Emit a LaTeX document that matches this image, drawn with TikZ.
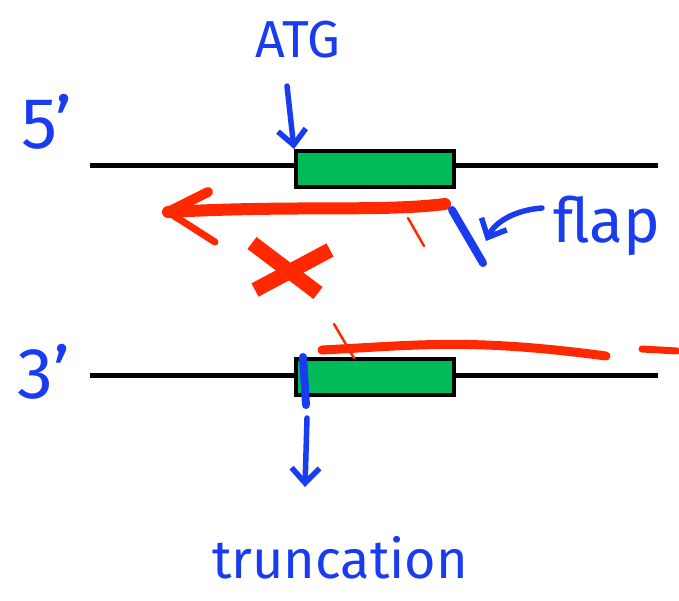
\documentclass[tikz,border=0pt]{standalone}
\usepackage{fontspec}
\setmainfont{Fira Sans}
\usetikzlibrary{arrows.meta}
\definecolor{penblue}{RGB}{25,60,240}
\definecolor{penred}{RGB}{255,40,0}
\definecolor{genegreen}{RGB}{0,187,90}
\tikzset{
  strand/.style={line width=5pt},
  gene/.style={draw=black, line width=4pt, fill=genegreen, minimum width=158pt, minimum height=36pt, inner sep=0pt},
  bluepen/.style={penblue, line width=5.5pt, line cap=round},
  redpen/.style={penred, line cap=round},
  pointer/.style={bluepen, -{Straight Barb[length=15pt,width=28pt,line width=5.5pt]}},
  label/.style={text=penblue, inner sep=0pt},
}
\begin{document}
\begin{tikzpicture}[x=1pt,y=-1pt]
\useasboundingbox (0,0) rectangle (679,600);
% top strand
\coordinate (t5) at (90,165);
\coordinate (t3) at (658,165);
\draw[strand] (t5) -- (t3);
\node[gene] (topgene) at (375,169) {};
% bottom strand
\coordinate (b5) at (90,375);
\coordinate (b3) at (658,375);
\draw[strand] (b5) -- (b3);
\node[gene] (botgene) at (375,377) {};
% labels
\node[label, font=\fontsize{52}{52}\selectfont] (atg) at (298,40) {ATG};
\node[label, font=\fontsize{72}{72}\selectfont] (five) at (47,122) {5'};
\node[label, font=\fontsize{72}{72}\selectfont] (three) at (44,372) {3'};
\node[label, font=\fontsize{62}{62}\selectfont] (flap) at (607,226) {flap};
\node[label, font=\fontsize{54}{54}\selectfont] (trunc) at (340,558) {truncation};
% ATG arrow
\coordinate (atgtail) at (287,86);
\draw[pointer] (atgtail) -- (topgene.north west);
% red arrow (new strand running left)
\coordinate (rstart) at (445,204);
\coordinate (rtip) at (168,212);
\coordinate (rbarb1) at (208,192);
\coordinate (rbarb2) at (215,242);
\draw[redpen, line width=12pt] (rstart) .. controls (380,212) and (300,205) .. (rtip);
\draw[redpen, line width=10pt] (rtip) -- (rbarb1);
\draw[redpen, line width=7pt] (rtip) -- (rbarb2);
\coordinate (streak1) at (408,218);
\coordinate (streak2) at (424,246);
\draw[redpen, line width=2.5pt] (streak1) -- (streak2);
% red cross
\coordinate (x1) at (255,290);
\coordinate (x2) at (330,250);
\coordinate (x3) at (252,243);
\coordinate (x4) at (318,293);
\draw[redpen, line width=15pt, line cap=butt] (x1) -- (x2);
\draw[redpen, line width=15pt, line cap=butt] (x3) -- (x4);
% flap stroke
\coordinate (flapa) at (452,210);
\coordinate (flapb) at (483,263);
\draw[penblue, line width=8pt, line cap=round] (flapa) -- (flapb);
% flap pointer
\coordinate (fptail) at (542,208);
\coordinate (fphead) at (486,241);
\draw[pointer] (fptail) .. controls (515,210) and (495,222) .. (fphead);
% bottom red strand
\coordinate (br1) at (322,350);
\coordinate (br2) at (606,356);
\draw[redpen, line width=9pt] (br1) .. controls (420,345) and (470,338) .. (br2);
\coordinate (bd1) at (642,349);
\coordinate (bd2) at (677,351);
\draw[redpen, line width=7pt] (bd1) -- (bd2);
\coordinate (bs1) at (334,324);
\coordinate (bs2) at (354,358);
\draw[redpen, line width=2.5pt] (bs1) -- (bs2);
% truncation mark
\coordinate (tm1) at (303,357);
\coordinate (tm2) at (306,405);
\draw[penblue, line width=8pt, line cap=round] (tm1) -- (tm2);
\coordinate (ttail) at (307,418);
\coordinate (thead) at (305,487);
\draw[pointer] (ttail) -- (thead);
\end{tikzpicture}
\end{document}
